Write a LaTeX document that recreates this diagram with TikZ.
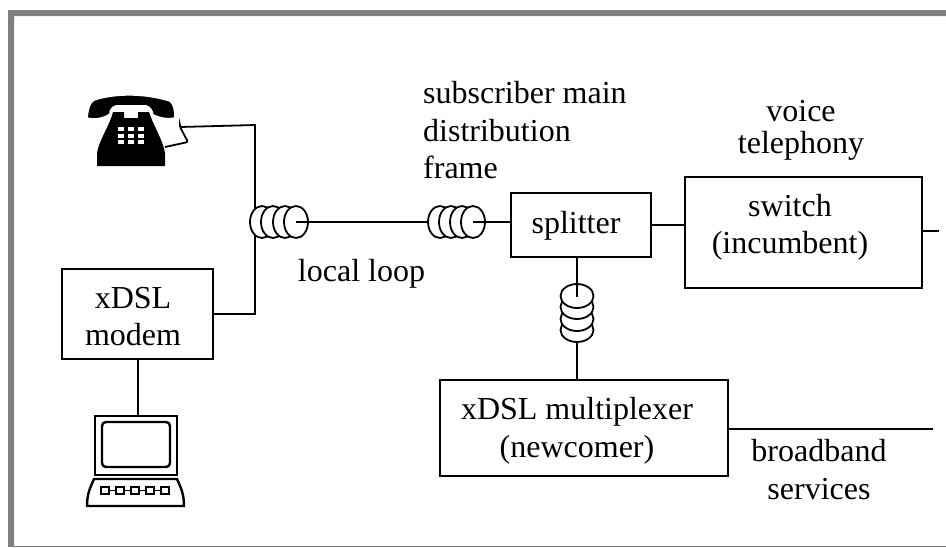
\documentclass[tikz,border=0pt]{standalone}
\usepackage{fontspec}
\setmainfont{Liberation Serif}
\definecolor{frameGray}{RGB}{128,128,128}
\begin{document}
\begin{tikzpicture}[x=1pt,y=-1pt,
    wire/.style={line width=1.8pt},
    box/.style={draw,line width=1.8pt,inner sep=0pt,align=center},
    turn/.style={draw,fill=white,line width=1.8pt},
    lbl/.style={align=center,inner sep=0pt},
    every node/.append style={font=\fontsize{32}{37.5}\selectfont}]
        \useasboundingbox (0,0) rectangle (946,547);
        % frame
        \fill[frameGray] (8,546) -- (8,10) -- (946,10) -- (946,16) -- (14,16) -- (14,546) -- cycle;
        \draw[frameGray,line width=1pt] (8,546) -- (946,546);

        % boxes
        \node[box,minimum width=151pt,minimum height=90pt] (modem) at (137.5,314) {};
        \node[box,minimum width=140pt,minimum height=64pt] (splitter) at (581,225) {};
        \node[box,minimum width=237pt,minimum height=111pt] (switch) at (803.5,232.5) {};
        \node[box,minimum width=288pt,minimum height=96pt] (mux) at (584,428) {};

        % labels
        \node[lbl] (modemtext) at (133,316.5) {xDSL\\modem};
        \node[lbl,anchor=base] (splittertext) at (576,233) {splitter};
        \node[lbl] (switchtext) at (790,227.5) {switch\\(incumbent)};
        \node[lbl] (muxtext) at (577,431) {xDSL multiplexer\\(newcomer)};
        \node[lbl,align=left,anchor=west] (smdf) at (423,130.5) {subscriber main\\distribution\\frame};
        \node[lbl] (voice) at (801,130.5) {voice\\[-4.8pt]telephony};
        \node[lbl,anchor=base] (loop) at (361.5,281) {local loop};
        \node[lbl] (broadband) at (819,469.5) {broadband\\services};

        % anchor points
        \coordinate (cord) at (180,127);
        \coordinate (corner) at (255,125);
        \coordinate (lowcorner) at (255,314);
        \coordinate (coilA) at (296,222);
        \coordinate (coilB) at (473,222);
        \coordinate (coilC) at (577,297);
        \coordinate (coilCend) at (577,343);
        \coordinate (switchout) at (939,231);
        \coordinate (muxout) at (933,429);
        \coordinate (laptop) at (138,416);

        % wires behind the coils
        \draw[wire] (cord) -- (corner) -- (lowcorner) -- (modem.east);
        \draw[wire] (modem.south -| laptop) -- (laptop);
        \draw[wire] (splitter.east) -- (switch.west |- splitter.east);
        \draw[wire] (switch.east |- switchout) -- (switchout);
        \draw[wire] (mux.east |- muxout) -- (muxout);
        \draw[wire] (coilCend) -- (mux.north -| coilCend);

        % coils
        \foreach \cx in {262,273,285,296} {
          \draw[turn] (\cx,222) ellipse (12 and 16);
        }
        \draw[wire] (coilA) -- (428,222);
        \foreach \cx in {440,451,462,473} {
          \draw[turn] (\cx,222) ellipse (12 and 16);
        }
        \foreach \cy in {330,319,307,296} {
          \draw[turn] (577,\cy) ellipse (16.5 and 12);
        }
        \draw[wire] (coilB) -- (coilB -| splitter.west);
        \draw[wire] (splitter.south -| coilC) -- (coilC);

        % telephone
        \fill (113,112) -- (124,112) -- (124,118) -- (138,118) -- (138,112) -- (149,112)
          .. controls (153,125) and (163,140) .. (165,153) -- (165,166) -- (97,166) -- (97,153)
          .. controls (99,140) and (110,125) .. (113,112) -- cycle;
        \draw[white,line width=1.6pt,fill=black] (87,118) .. controls (88,108) and (90,102) .. (94,100)
          .. controls (115,93) and (145,93) .. (170,101)
          .. controls (174,104) and (175,110) .. (175,118)
          .. controls (168,120) and (160,118) .. (153,115)
          .. controls (152,110) and (150,107) .. (146,106) -- (116,106)
          .. controls (112,107) and (110,110) .. (110,114)
          .. controls (103,119) and (94,120) .. (87,118) -- cycle;
        \foreach \kx in {118,128,138} {
          \foreach \ky in {127,133.5,140} {
            \fill[white] (\kx,\ky) rectangle +(6,4);
          }
        }
        \draw[line width=1.8pt,rounded corners=2pt] (165,147) -- (188,142) -- (180,127) -- (cord);

        % laptop
        \draw[line width=2.4pt] (95,416) rectangle (177,475);
        \draw[line width=2.4pt,rounded corners=4pt] (102,422) rectangle (170,467);
        \draw[line width=2.4pt] (94,479) -- (177,479) .. controls (181,488) and (184,494) .. (184,506)
          -- (87,506) .. controls (87,494) and (90,488) .. (94,479) -- cycle;
        \draw[line width=1.5pt] (101,490.5) -- (170,490.5);
        \foreach \kx in {105,120,135,150,165} {
          \draw[line width=1.5pt,fill=white] (\kx-4,487) rectangle (\kx+4,494);
        }
      \end{tikzpicture}
\end{document}
